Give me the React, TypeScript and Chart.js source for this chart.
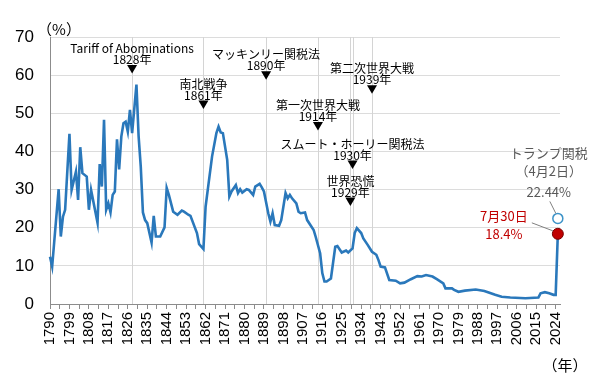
import React, { useEffect, useRef } from 'react';
import { Chart, registerables } from 'chart.js';

Chart.register(...registerables);

// ---- data ----
const years = [1790,1791,1794,1795,1796,1797,1799,1800,1802,1803,1804,1805,1807,1808,1809,1812,1813,1814,1815,1816,1817,1818,1819,1820,1821,1822,1823,1824,1825,1826,1827,1828,1830,1831,1832,1833,1834,1835,1837,1838,1839,1841,1843,1844,1845,1847,1849,1851,1852,1854,1855,1858,1859,1861,1862,1863,1865,1867,1868,1869,1870,1872,1873,1874,1876,1877,1878,1879,1881,1882,1884,1885,1887,1888,1889,1891,1892,1893,1894,1896,1897,1899,1900,1901,1902,1904,1905,1906,1908,1909,1912,1913,1915,1916,1917,1918,1920,1922,1923,1925,1927,1928,1930,1931,1932,1934,1935,1937,1939,1941,1942,1943,1945,1947,1950,1952,1954,1957,1960,1962,1964,1967,1969,1972,1973,1976,1977,1979,1982,1987,1991,1993,1996,1999,2003,2010,2016,2017,2019,2021,2023,2024,2025];
const rates = [12.4,9.8,30.1,17.7,22.9,24.7,44.6,29.9,34.7,27.3,41.1,34.3,33.4,24.7,29.9,21.3,36.7,30.8,48.3,24.7,26.4,24.0,28.6,29.5,43.2,35.3,43.9,47.4,47.8,45.2,50.9,44.8,57.5,44.0,36.0,24.0,22.0,21.2,16.1,23.1,17.7,17.7,20.1,30.4,28.6,24.2,23.4,24.5,24.2,23.4,23.1,18.6,15.7,14.4,25.5,29.9,38.7,44.8,46.5,45.0,44.8,37.8,28.2,29.5,31.2,29.1,30.1,29.2,30.1,29.9,28.6,30.8,31.5,30.6,29.5,23.8,21.6,23.8,20.7,20.5,22.0,29.1,27.7,28.6,27.7,26.4,24.2,23.8,24.0,22.0,19.4,17.5,13.3,8.1,5.9,5.9,6.7,15.0,15.2,13.5,14.0,13.5,14.6,18.6,19.9,18.6,17.2,15.5,13.7,12.9,11.5,9.8,9.6,6.3,6.1,5.4,5.6,6.5,7.3,7.2,7.6,7.2,6.5,5.4,4.1,4.1,3.7,3.2,3.5,3.8,3.4,3.0,2.4,1.9,1.7,1.5,1.7,2.8,3.1,2.8,2.4,2.4,18.4];

const tickLabelYears = [1790,1799,1808,1817,1826,1835,1844,1853,1862,1871,1880,1889,1898,1907,1916,1925,1934,1943,1952,1961,1970,1979,1988,1997,2006,2015,2024];

const eventYears = [1828, 1861, 1890, 1914, 1930, 1929, 1939];
const eventTitles = ['Tariff of Abominations', '南北戦争', 'マッキンリー関税法', '第一次世界大戦', 'スムート・ホーリー関税法', '世界恐慌', '第二次世界大戦'];
const eventYearLabels = ['1828年', '1861年', '1890年', '1914年', '1930年', '1929年', '1939年'];
const eventMarkerLevels = [60.4, 51.1, 58.8, 45.5, 35.4, 25.7, 55.1];

const trumpYear = 2025;
const aprilRate = 22.44;
const julyRate = 18.4;
const aprilLabels = ['トランプ関税', '（4月2日）', '22.44%'];
const julyLabels = ['7月30日', '18.4%'];

const LINE_COLOR = '#2a78bb';
const RED = '#c00000';
const JP = "'Noto Sans CJK JP', 'Liberation Sans', sans-serif";
const AR = "'Liberation Sans', Arial, sans-serif";

const annotPlugin = {
  id: 'annot',
  beforeDatasetsDraw(chart: any) {
    const { ctx, chartArea, scales } = chart;
    ctx.save();
    ctx.strokeStyle = '#d4d4d4';
    ctx.lineWidth = 1;
    eventYears.forEach((yr) => {
      const x = Math.round(scales.x.getPixelForValue(yr)) + 0.5;
      ctx.beginPath();
      ctx.moveTo(x, chartArea.top);
      ctx.lineTo(x, chartArea.bottom);
      ctx.stroke();
    });
    ctx.restore();
  },
  afterDatasetsDraw(chart: any) {
    const { ctx, scales } = chart;
    const xs = scales.x;
    const ys = scales.y;
    ctx.save();
    ctx.textAlign = 'center';
    ctx.textBaseline = 'middle';
    eventYears.forEach((yr, i) => {
      const x = xs.getPixelForValue(yr);
      const tip = ys.getPixelForValue(eventMarkerLevels[i]);
      ctx.fillStyle = '#000';
      ctx.beginPath();
      ctx.moveTo(x, tip);
      ctx.lineTo(x - 5, tip - 8.5);
      ctx.lineTo(x + 5, tip - 8.5);
      ctx.closePath();
      ctx.fill();
      ctx.font = `12px ${JP}`;
      ctx.fillText(eventYearLabels[i], x, tip - 14);
      ctx.fillText(eventTitles[i], x, tip - 25);
    });

    // Trump annotation
    const px = xs.getPixelForValue(trumpYear);
    const pyA = ys.getPixelForValue(aprilRate);
    const pyJ = ys.getPixelForValue(julyRate);
    ctx.strokeStyle = '#808080';
    ctx.lineWidth = 1;
    ctx.beginPath();
    ctx.moveTo(px - 8, pyA - 17);
    ctx.lineTo(px - 2, pyA - 5);
    ctx.stroke();
    ctx.beginPath();
    ctx.moveTo(px - 26, pyJ - 11);
    ctx.lineTo(px - 5, pyJ - 3);
    ctx.stroke();

    ctx.fillStyle = '#595959';
    ctx.font = `13px ${JP}`;
    ctx.fillText(aprilLabels[0], px - 9, pyA - 65);
    ctx.fillText(aprilLabels[1], px - 9, pyA - 47);
    ctx.fillText(aprilLabels[2], px - 9, pyA - 26);

    ctx.fillStyle = RED;
    ctx.font = `13px ${JP}`;
    ctx.fillText(julyLabels[0], px - 54, pyJ - 18);
    ctx.fillText(julyLabels[1], px - 54, pyJ);
    ctx.restore();
  },
  afterDraw(chart: any) {
    const { ctx, chartArea, height } = chart;
    ctx.save();
    ctx.fillStyle = '#000';
    ctx.textAlign = 'center';
    ctx.textBaseline = 'middle';
    ctx.font = `15px ${JP}`;
    ctx.fillText('（%）', chartArea.left + 9, chartArea.top - 8);
    ctx.fillText('（年）', chartArea.right + 5, height - 15);
    ctx.restore();
  },
};

export default function App() {
  const ref = useRef<HTMLCanvasElement>(null);
  useEffect(() => {
    const minorTicks: number[] = [];
    tickLabelYears.forEach((y, i) => {
      minorTicks.push(y);
      if (i < tickLabelYears.length - 1) minorTicks.push((y + tickLabelYears[i + 1]) / 2);
    });
    const chart = new Chart(ref.current as HTMLCanvasElement, {
      type: 'line',
      data: {
        datasets: [
          {
            data: years.map((y, i) => ({ x: y, y: rates[i] })),
            borderColor: LINE_COLOR,
            borderWidth: 2.6,
            pointRadius: 0,
            tension: 0,
            clip: false,
            order: 3,
          },
          {
            data: [{ x: trumpYear, y: aprilRate }],
            showLine: false,
            pointRadius: 5,
            pointBackgroundColor: '#ffffff',
            pointBorderColor: '#3d93c8',
            pointBorderWidth: 1.5,
            clip: false,
            order: 1,
          },
          {
            data: [{ x: trumpYear, y: julyRate }],
            showLine: false,
            pointRadius: 5.5,
            pointBackgroundColor: RED,
            pointBorderColor: '#7a0000',
            pointBorderWidth: 1,
            clip: false,
            order: 0,
          },
        ] as any,
      },
      options: {
        responsive: false,
        animation: false,
        layout: { padding: { top: 37, right: 40, left: 0, bottom: 0 } },
        plugins: { legend: { display: false }, tooltip: { enabled: false } },
        scales: {
          x: {
            type: 'linear',
            min: 1790,
            max: 2026,
            afterBuildTicks: (s: any) => {
              s.ticks = minorTicks.map((v) => ({ value: v }));
            },
            afterFit: (s: any) => {
              s.height = 76;
            },
            ticks: {
              autoSkip: false,
              minRotation: 90,
              maxRotation: 90,
              padding: 3,
              color: '#000',
              font: { family: AR, size: 15 },
              callback: (v: any) => (tickLabelYears.includes(v) ? String(v) : ''),
            },
            grid: {
              display: true,
              drawOnChartArea: false,
              drawTicks: true,
              tickLength: 5,
              color: '#8c8c8c',
            },
            border: { display: true, color: '#8c8c8c', width: 1 },
          },
          y: {
            min: 0,
            max: 70,
            afterFit: (s: any) => {
              s.width = 50;
            },
            ticks: {
              stepSize: 10,
              padding: 16,
              color: '#000',
              font: { family: AR, size: 17 },
            },
            grid: { color: '#dcdcdc', drawTicks: false },
            border: { display: true, color: '#8c8c8c', width: 1 },
          },
        },
      } as any,
      plugins: [annotPlugin],
    });
    return () => chart.destroy();
  }, []);
  return (
    <div style={{ position: 'fixed', left: 0, top: 0, width: 600, height: 380, background: '#fff' }}>
      <canvas ref={ref} width={600} height={380} style={{ display: 'block' }} />
    </div>
  );
}
